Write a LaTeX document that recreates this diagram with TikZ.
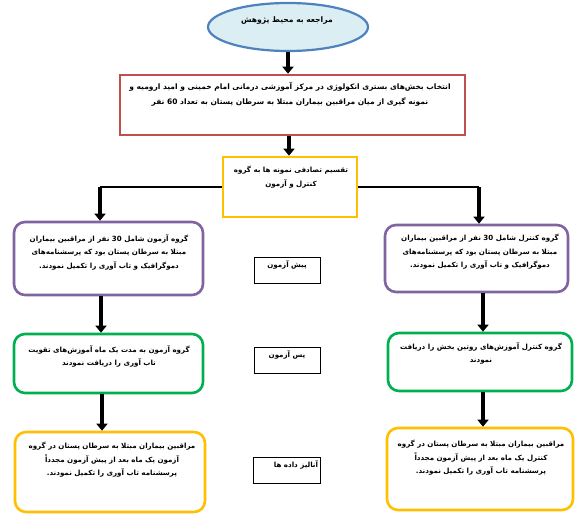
\documentclass[tikz,border=0pt]{standalone}
\usepackage{fontspec}
\usetikzlibrary{arrows.meta,shapes.geometric,calc}
\TeXXeTstate=1
\newfontfamily\fa[Script=Arabic]{DejaVu Sans}
\definecolor{cblue}{RGB}{79,129,189}
\definecolor{cbluefill}{RGB}{218,238,243}
\definecolor{cred}{RGB}{192,80,77}
\definecolor{cyel}{RGB}{255,192,0}
\definecolor{cpur}{RGB}{128,100,162}
\definecolor{cgrn}{RGB}{0,176,80}
\newcommand{\RL}[1]{\beginR #1\endR}
\newcommand{\LN}[1]{\beginL #1\endL{}}
\tikzset{
  box/.style={draw, line width=2.6pt, inner sep=0pt},
  rbox/.style={box, rounded corners=11pt},
  small/.style={draw=black, line width=0.6pt, inner sep=0pt, minimum width=66pt, minimum height=26pt},
  txt/.style={font=\fa\bfseries\fontsize{7.1}{13.5}\selectfont, align=center, inner sep=0pt},
  arr/.style={line width=3.2pt, -{Triangle[width=11pt,length=7pt]}},
  thin/.style={line width=1.4pt}
}
\begin{document}
\begin{tikzpicture}[x=1pt,y=-1pt]
\fill[white] (0,0) rectangle (586,518);
\useasboundingbox (0,0) rectangle (586,518);
% top ellipse
\node[ellipse, draw=cblue, fill=cbluefill, line width=2.2pt, minimum width=160pt, minimum height=48pt, inner sep=0pt] (start) at (288,27) {};
\node[txt, font=\fa\bfseries\fontsize{7.6}{13.5}\selectfont] (tstart) at (287,21) {\RL{مراجعه به محیط پژوهش}};
% selection box
\node[box, draw=cred, minimum width=345pt, minimum height=60pt] (sel) at (292.5,105) {};
\node[txt, font=\fa\bfseries\fontsize{7.5}{14.5}\selectfont] (tsel) at (290,94.5) {\RL{انتخاب بخش‌های بستری انکولوژی در مرکز آموزشی درمانی امام خمینی و امید ارومیه و}\\
\RL{نمونه گیری از میان مراقبین بیماران مبتلا به سرطان پستان به تعداد \LN{60} نفر}};
% split box
\node[box, draw=cyel, minimum width=134pt, minimum height=60pt] (split) at (290,187) {};
\node[txt] (tsplit) at (291,177) {\RL{تقسیم تصادفی نمونه ها به گروه}\\ \RL{کنترل و آزمون}};
% row 1
\node[rbox, draw=cpur, minimum width=189pt, minimum height=73pt] (lp) at (108.5,258.5) {};
\node[txt] (tlp) at (109,252) {\RL{گروه آزمون شامل \LN{30} نفر از مراقبین بیماران}\\
\RL{مبتلا به سرطان پستان بود که پرسشنامه‌های}\\
\RL{دموگرافیک و تاب آوری را تکمیل نمودند.}};
\node[rbox, draw=cpur, minimum width=183pt, minimum height=67pt] (rp) at (476.5,258.5) {};
\node[txt] (trp) at (480,252) {\RL{گروه کنترل شامل \LN{30} نفر از مراقبین بیماران}\\
\RL{مبتلا به سرطان پستان بود که پرسشنامه‌های}\\
\RL{دموگرافیک و تاب آوری را تکمیل نمودند.}};
\node[small] (pre) at (287,270) {};
\node[txt] (tpre) at (287,265) {\RL{پیش آزمون}};
% row 2
\node[rbox, draw=cgrn, minimum width=189pt, minimum height=59pt] (lg) at (108.5,363.5) {};
\node[txt] (tlg) at (109,356.5) {\RL{گروه آزمون به مدت یک ماه آموزش‌های تقویت}\\
\RL{تاب آوری را دریافت نمودند}};
\node[rbox, draw=cgrn, minimum width=184pt, minimum height=58pt] (rg) at (480,362) {};
\node[txt] (trg) at (481,353.5) {\RL{گروه کنترل آموزش‌های روتین بخش را دریافت}\\
\RL{نمودند}};
\node[small] (post) at (287,360) {};
\node[txt] (tpost) at (287,355) {\RL{پس آزمون}};
% row 3
\node[rbox, draw=cyel, minimum width=190pt, minimum height=80pt] (ly) at (110,472) {};
\node[txt] (tly) at (112,460) {\RL{مراقبین بیماران مبتلا به سرطان پستان در گروه}\\
\RL{آزمون یک ماه بعد از پیش آزمون مجدداً}\\
\RL{پرسشنامه تاب آوری را تکمیل نمودند.}};
\node[rbox, draw=cyel, minimum width=186pt, minimum height=82pt] (ry) at (480,469) {};
\node[txt] (try) at (481,458) {\RL{مراقبین بیماران مبتلا به سرطان پستان در گروه}\\
\RL{کنترل یک ماه بعد از پیش آزمون مجدداً}\\
\RL{پرسشنامه تاب آوری را تکمیل نمودند.}};
\node[small, minimum width=67pt] (ana) at (286.5,470) {};
\node[txt] (tana) at (296,465) {\RL{آنالیز داده ها}};
% connectors
\draw[arr] (start.south -| 288,0) -- (sel.north -| 288,0);
\draw[arr] (sel.south -| 289,0) -- (split.north -| 289,0);
\coordinate (lc) at (100,187);
\coordinate (rc) at (479,187);
\draw[thin] (split.west) -- (lc);
\draw[thin] (split.east) -- (rc);
\draw[arr] (lc) -- (lp.north -| lc);
\draw[arr] (rc) -- (rp.north -| rc);
\draw[arr] (lp.south -| 101,0) -- (lg.north -| 101,0);
\draw[arr] (rp.south -| 483,0) -- (rg.north -| 483,0);
\draw[arr] (lg.south -| 102,0) -- (ly.north -| 102,0);
\draw[arr] (rg.south -| 483,0) -- (ry.north -| 483,0);
\end{tikzpicture}
\end{document}
